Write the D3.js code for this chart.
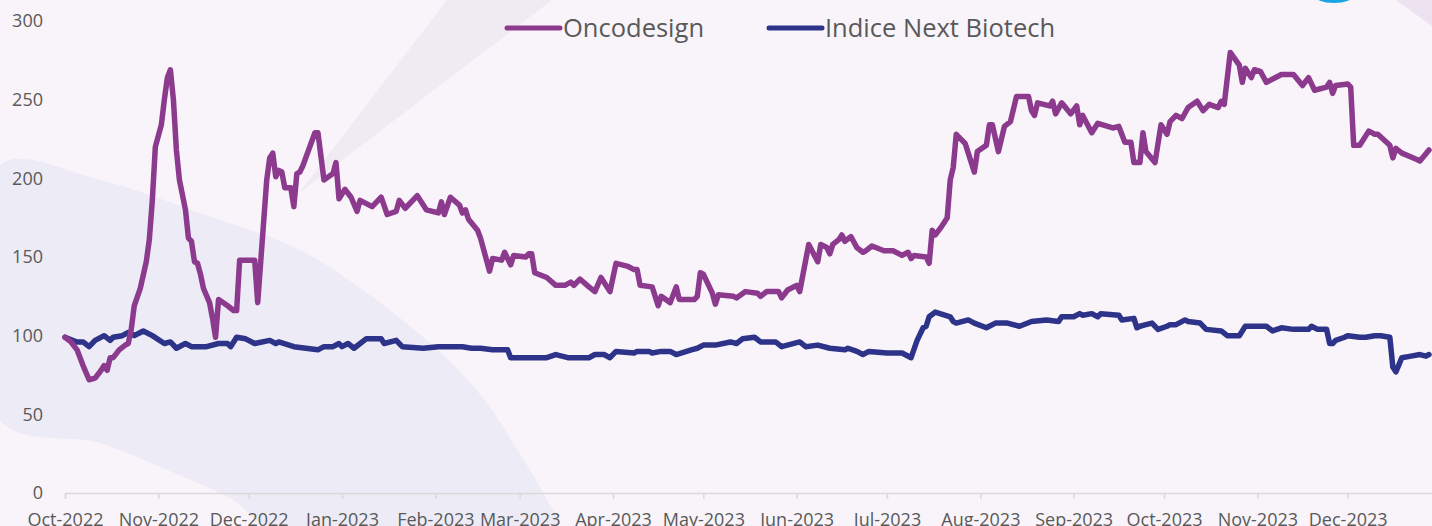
<!DOCTYPE html>
<html>
<head>
<meta charset="utf-8">
<script src="https://cdn.jsdelivr.net/npm/d3@7"></script>
<style>
  html, body { margin: 0; padding: 0; background: #f8f4fa; overflow: hidden; }
  svg { display: block; }
  text { font-family: "Open Sans", sans-serif; fill: #595959; }
</style>
</head>
<body>
<div id="chart"></div>
<script>
// Series data, base 100 = Oct-2022
const oncoDates = ["2022-10-01","2022-10-03","2022-10-05","2022-10-07","2022-10-09","2022-10-11","2022-10-13","2022-10-14","2022-10-15","2022-10-16","2022-10-17","2022-10-19","2022-10-21","2022-10-22","2022-10-23","2022-10-24","2022-10-26","2022-10-28","2022-10-29","2022-10-30","2022-10-31","2022-11-02","2022-11-03","2022-11-04","2022-11-05","2022-11-06","2022-11-07","2022-11-08","2022-11-10","2022-11-11","2022-11-12","2022-11-13","2022-11-14","2022-11-15","2022-11-16","2022-11-18","2022-11-19","2022-11-20","2022-11-21","2022-11-24","2022-11-26","2022-11-27","2022-11-28","2022-12-03","2022-12-04","2022-12-07","2022-12-08","2022-12-09","2022-12-10","2022-12-11","2022-12-12","2022-12-13","2022-12-15","2022-12-16","2022-12-17","2022-12-18","2022-12-19","2022-12-23","2022-12-24","2022-12-26","2022-12-29","2022-12-30","2022-12-31","2023-01-02","2023-01-04","2023-01-06","2023-01-07","2023-01-11","2023-01-14","2023-01-16","2023-01-19","2023-01-20","2023-01-22","2023-01-26","2023-01-29","2023-02-02","2023-02-03","2023-02-04","2023-02-06","2023-02-09","2023-02-10","2023-02-11","2023-02-12","2023-02-15","2023-02-16","2023-02-19","2023-02-20","2023-02-23","2023-02-24","2023-02-26","2023-02-27","2023-03-03","2023-03-04","2023-03-05","2023-03-06","2023-03-10","2023-03-13","2023-03-16","2023-03-18","2023-03-19","2023-03-21","2023-03-24","2023-03-26","2023-03-28","2023-03-31","2023-04-02","2023-04-06","2023-04-08","2023-04-09","2023-04-10","2023-04-14","2023-04-16","2023-04-17","2023-04-20","2023-04-22","2023-04-23","2023-04-28","2023-04-29","2023-04-30","2023-05-01","2023-05-04","2023-05-05","2023-05-06","2023-05-11","2023-05-12","2023-05-15","2023-05-19","2023-05-20","2023-05-22","2023-05-26","2023-05-27","2023-05-29","2023-06-01","2023-06-02","2023-06-05","2023-06-08","2023-06-09","2023-06-11","2023-06-12","2023-06-13","2023-06-15","2023-06-16","2023-06-17","2023-06-19","2023-06-21","2023-06-23","2023-06-24","2023-06-26","2023-06-30","2023-07-03","2023-07-06","2023-07-08","2023-07-09","2023-07-10","2023-07-14","2023-07-15","2023-07-16","2023-07-17","2023-07-19","2023-07-21","2023-07-22","2023-07-23","2023-07-24","2023-07-27","2023-07-28","2023-07-30","2023-07-31","2023-08-03","2023-08-04","2023-08-05","2023-08-07","2023-08-09","2023-08-11","2023-08-13","2023-08-17","2023-08-18","2023-08-19","2023-08-20","2023-08-24","2023-08-25","2023-08-26","2023-08-28","2023-08-31","2023-09-02","2023-09-03","2023-09-04","2023-09-07","2023-09-09","2023-09-14","2023-09-16","2023-09-18","2023-09-20","2023-09-21","2023-09-23","2023-09-24","2023-09-25","2023-09-28","2023-09-30","2023-10-02","2023-10-03","2023-10-05","2023-10-07","2023-10-09","2023-10-12","2023-10-14","2023-10-16","2023-10-19","2023-10-20","2023-10-21","2023-10-23","2023-10-26","2023-10-27","2023-10-28","2023-10-30","2023-10-31","2023-11-02","2023-11-04","2023-11-09","2023-11-13","2023-11-16","2023-11-18","2023-11-20","2023-11-24","2023-11-25","2023-11-26","2023-11-27","2023-12-01","2023-12-02","2023-12-03","2023-12-05","2023-12-08","2023-12-10","2023-12-11","2023-12-15","2023-12-16","2023-12-17","2023-12-19","2023-12-24","2023-12-25","2023-12-28"];
const oncoValues = [99,96,91,81,72,73,78,81,78,86,86,91,94,95,104,119,130,147,161,186,220,234,250,264,269,250,218,199,180,162,160,147,146,139,130,121,111,99,123,119,116,116,148,148,121,199,213,216,201,205,204,194,194,182,203,204,208,229,229,199,203,210,187,193,188,179,186,182,188,177,179,186,181,189,180,178,185,177,188,183,178,180,174,167,162,141,149,148,153,145,151,150,152,152,140,137,132,132,134,132,136,131,128,137,128,146,144,142,142,132,131,119,125,121,131,123,123,125,140,139,127,120,126,125,124,128,127,125,128,128,124,129,132,128,158,147,158,156,152,158,161,164,160,163,156,153,154,157,154,154,151,153,149,151,150,146,167,164,169,175,199,207,228,222,216,204,217,221,234,234,217,233,236,252,252,243,240,248,246,249,241,248,241,246,234,240,229,235,232,233,223,223,210,210,229,217,210,234,228,236,240,238,245,249,243,247,245,249,247,280,272,261,270,264,269,268,261,266,266,259,264,256,258,261,254,259,260,258,221,221,230,228,228,221,213,219,216,212,211,218];

const indexDates = ["2022-10-01","2022-10-05","2022-10-07","2022-10-09","2022-10-11","2022-10-14","2022-10-16","2022-10-17","2022-10-20","2022-10-22","2022-10-24","2022-10-27","2022-10-30","2022-11-03","2022-11-05","2022-11-07","2022-11-10","2022-11-12","2022-11-17","2022-11-21","2022-11-24","2022-11-25","2022-11-27","2022-11-30","2022-12-03","2022-12-08","2022-12-10","2022-12-11","2022-12-16","2022-12-24","2022-12-26","2022-12-29","2022-12-31","2023-01-01","2023-01-03","2023-01-05","2023-01-09","2023-01-14","2023-01-15","2023-01-19","2023-01-21","2023-01-28","2023-02-02","2023-02-06","2023-02-10","2023-02-13","2023-02-16","2023-02-20","2023-02-25","2023-02-26","2023-03-04","2023-03-10","2023-03-13","2023-03-17","2023-03-24","2023-03-26","2023-03-29","2023-03-31","2023-04-02","2023-04-08","2023-04-09","2023-04-13","2023-04-14","2023-04-17","2023-04-20","2023-04-22","2023-04-27","2023-04-29","2023-05-01","2023-05-05","2023-05-10","2023-05-12","2023-05-14","2023-05-18","2023-05-20","2023-05-25","2023-05-27","2023-06-02","2023-06-04","2023-06-08","2023-06-12","2023-06-17","2023-06-18","2023-06-21","2023-06-23","2023-06-25","2023-07-01","2023-07-06","2023-07-09","2023-07-11","2023-07-13","2023-07-14","2023-07-15","2023-07-17","2023-07-22","2023-07-23","2023-07-24","2023-07-28","2023-07-30","2023-08-03","2023-08-06","2023-08-10","2023-08-14","2023-08-18","2023-08-23","2023-08-27","2023-08-28","2023-09-01","2023-09-03","2023-09-04","2023-09-07","2023-09-09","2023-09-10","2023-09-16","2023-09-17","2023-09-21","2023-09-22","2023-09-23","2023-09-25","2023-09-27","2023-09-29","2023-10-02","2023-10-03","2023-10-05","2023-10-08","2023-10-09","2023-10-13","2023-10-15","2023-10-20","2023-10-22","2023-10-26","2023-10-28","2023-10-30","2023-11-04","2023-11-06","2023-11-09","2023-11-13","2023-11-18","2023-11-19","2023-11-21","2023-11-24","2023-11-25","2023-11-26","2023-11-27","2023-11-30","2023-12-01","2023-12-05","2023-12-07","2023-12-10","2023-12-12","2023-12-15","2023-12-16","2023-12-17","2023-12-19","2023-12-22","2023-12-25","2023-12-27","2023-12-28"];
const indexValues = [99,96,96,93,97,100,97,99,100,102,100,103,100,95,96,92,95,93,93,95,95,93,99,98,95,97,95,96,93,91,93,93,95,93,95,92,98,98,95,97,93,92,93,93,93,92,92,91,91,86,86,86,88,86,86,88,88,86,90,89,90,90,89,90,90,88,91,92,94,94,96,95,98,99,96,96,93,96,93,94,92,91,92,90,88,90,89,89,86,97,105,106,112,115,112,109,108,110,108,105,108,108,106,109,110,109,112,112,114,113,114,112,114,113,110,111,105,106,107,108,104,106,107,107,110,109,108,104,103,100,100,106,106,106,103,105,104,104,106,104,104,95,95,97,99,100,99,99,100,100,99,80,77,86,87,88,87,88];

const seriesNames = ["Oncodesign", "Indice Next Biotech"];
const seriesColors = ["#8c3a8e", "#2c3388"];
const yTicks = [0, 50, 100, 150, 200, 250, 300];

const W = 1432, H = 526;
const parse = d3.timeParse("%Y-%m-%d");

const svg = d3.select("#chart").append("svg")
    .attr("width", W)
    .attr("height", H);

svg.append("rect").attr("width", W).attr("height", H).attr("fill", "#f8f4fa");

// Decorative background shapes
const deco = svg.append("g").attr("class", "deco");
const blob = [[0,165],[100,180],[200,213],[300,250],[367,293],[440,352],[483,398],[513,443],[547,500],[558,526],
              [268,526],[233,500],[160,467],[100,443],[0,420]];
deco.append("path")
    .attr("d", d3.line().curve(d3.curveCatmullRomClosed.alpha(0.5))(blob))
    .attr("fill", "#edebf5");
deco.append("path")
    .attr("d", "M0,160 L0,420 L-60,420 Z")
    .attr("fill", "#edebf5");
deco.append("polygon")
    .attr("points", "299,193 447,0 552,0")
    .attr("fill", "#f0eaf3");
deco.append("polygon")
    .attr("points", "1396,0 1432,0 1432,26")
    .attr("fill", "#ece2f0");
deco.append("ellipse")
    .attr("cx", 1334).attr("cy", -5).attr("rx", 20).attr("ry", 8)
    .attr("fill", "#1ba3e2");

// Scales
const x = d3.scaleTime()
    .domain([parse("2022-10-01"), parse("2024-01-01")])
    .range([65, 65 + 457 * 3.011]);
const y = d3.scaleLinear().domain([0, 300]).range([493, 21]);

// x axis
const monthTicks = d3.timeMonth.range(parse("2022-10-01"), parse("2024-01-01"));
const xAxis = svg.append("g")
    .attr("transform", `translate(0,${y(0)})`)
    .call(d3.axisBottom(x).tickValues(monthTicks).tickFormat(d3.timeFormat("%b-%Y")).tickSize(6).tickPadding(14));
xAxis.select(".domain").attr("stroke", "#d9d9d9").attr("stroke-width", 1.5);
xAxis.selectAll(".tick line").attr("stroke", "#d9d9d9").attr("stroke-width", 1.5);
xAxis.selectAll(".tick text")
    .attr("fill", "#595959")
    .style("font-size", "18px");

// y axis labels (no line)
svg.append("g").selectAll("text")
    .data(yTicks)
    .join("text")
    .attr("x", 43)
    .attr("y", d => y(d))
    .attr("dy", "0.35em")
    .attr("text-anchor", "end")
    .style("font-size", "18px")
    .text(d => d);

// lines
const line = d3.line()
    .x(d => x(d.date))
    .y(d => y(d.value));

const seriesData = [
    oncoDates.map((d, i) => ({date: parse(d), value: oncoValues[i]})),
    indexDates.map((d, i) => ({date: parse(d), value: indexValues[i]}))
];

// navy first, purple on top
[1, 0].forEach(i => {
    svg.append("path")
        .datum(seriesData[i])
        .attr("fill", "none")
        .attr("stroke", seriesColors[i])
        .attr("stroke-width", 5.5)
        .attr("stroke-linejoin", "round")
        .attr("stroke-linecap", "round")
        .attr("d", line);
});

// legend
const legendX = [505, 767];
const legend = svg.append("g").selectAll("g")
    .data(seriesNames)
    .join("g")
    .attr("transform", (d, i) => `translate(${legendX[i]},28)`);
legend.append("line")
    .attr("x1", 2).attr("x2", 55)
    .attr("stroke", (d, i) => seriesColors[i])
    .attr("stroke-width", 5)
    .attr("stroke-linecap", "round");
legend.append("text")
    .attr("x", 58)
    .attr("dy", "0.35em")
    .style("font-size", "25.5px")
    .text(d => d);
</script>
</body>
</html>
